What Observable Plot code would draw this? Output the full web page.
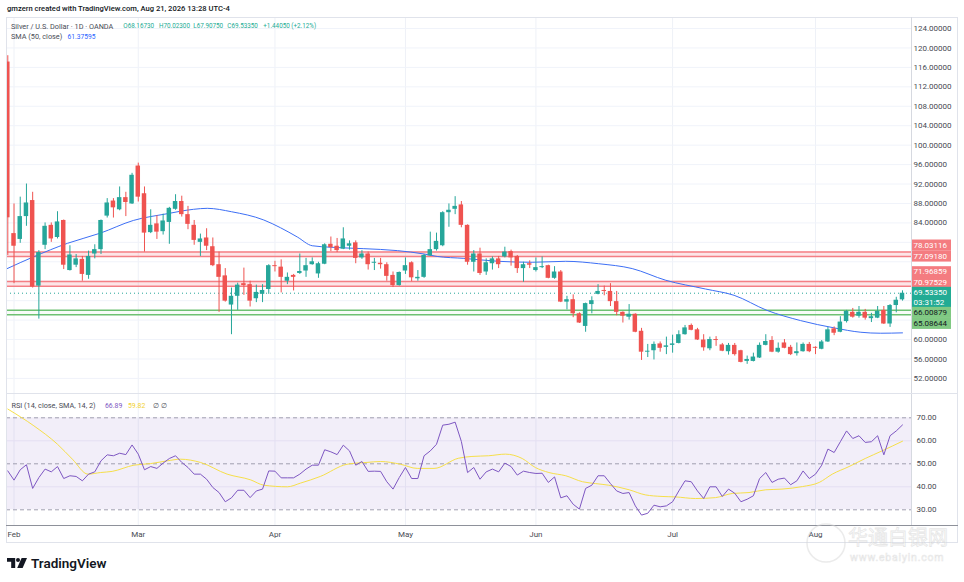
<!DOCTYPE html>
<html><head><meta charset="utf-8">
<script src="https://cdn.jsdelivr.net/npm/d3@7"></script>
<script src="https://cdn.jsdelivr.net/npm/@observablehq/plot@0.6"></script>
<style>
body{margin:0;background:#fff;}
#root{position:relative;width:964px;height:582px;overflow:hidden;background:#fff;font-family:Roboto,"Noto Sans",sans-serif;}
#root > svg{position:absolute;left:0;}
</style></head><body><div id="root"></div>
<script>
// ---------- data ----------
const opens = [117.1,81.8,80.6,85.3,88.6,71.0,79.4,83.5,81.0,84.5,
74.2,75.3,76.5,73.2,77.6,78.5,85.4,88.5,86.7,89.2,
87.9,95.7,90.0,82.0,83.8,82.2,84.1,86.8,88.4,85.7,
83.5,80.0,80.9,79.1,75.4,73.1,67.1,68.9,71.5,71.3,
68.4,69.3,70.3,75.2,74.9,72.0,73.2,73.6,74.1,75.4,
73.5,75.5,79.6,79.2,78.6,79.2,79.9,76.8,77.6,75.7,
75.7,75.4,73.2,71.1,74.1,75.8,72.5,72.8,77.2,78.5,
79.3,86.1,86.8,87.7,83.5,75.9,77.6,73.9,75.6,76.6,
77.0,78.1,77.1,74.6,75.6,74.2,74.8,75.2,72.6,73.9,
67.7,68.2,65.3,62.7,67.2,69.3,70.1,69.9,67.8,65.6,
64.6,65.2,61.7,57.4,57.7,59.1,58.4,58.8,59.2,61.0,
62.9,62.0,59.9,58.1,60.0,58.9,57.5,58.8,57.7,55.5,
55.5,56.2,58.8,59.8,57.4,59.3,58.4,57.1,57.5,59.0,
58.4,58.0,59.5,62.2,61.5,63.7,65.6,64.8,65.6,64.3,
64.4,66.0,63.2,67.0,68.1673];
const highs = [118.4,87.9,89.3,92.0,90.3,78.3,84.0,84.0,86.3,84.6,
79.3,77.5,77.1,78.2,79.5,84.6,89.0,89.0,91.4,90.3,
94.2,96.3,91.4,86.7,85.5,85.8,87.2,89.8,89.5,87.4,
84.5,81.7,82.8,80.9,78.0,74.6,70.6,71.6,74.7,72.0,
71.2,71.3,75.4,76.1,76.4,73.7,73.4,77.6,76.7,76.8,
75.9,79.7,81.1,80.8,83.0,80.3,80.3,78.3,78.0,76.7,
76.7,75.8,73.9,73.9,76.8,76.0,74.2,77.5,82.1,81.9,
86.3,87.9,89.4,88.4,83.6,78.3,78.8,76.6,77.0,77.1,
79.0,78.4,77.3,75.9,76.2,76.8,77.0,75.3,75.0,74.2,
68.9,69.2,65.5,67.5,68.8,71.3,71.0,71.5,69.9,65.7,
67.2,65.3,62.3,59.0,59.5,59.5,60.5,60.9,61.8,62.9,
63.2,62.3,61.0,60.5,60.6,59.2,59.2,59.2,57.8,56.6,
57.2,59.3,61.0,60.6,59.3,60.0,58.8,59.3,59.3,59.4,
58.5,59.8,62.5,62.6,64.7,66.0,66.4,66.8,66.2,65.4,
66.8,66.8,67.2,68.7,70.023];
const lows = [77.3,71.5,79.8,83.3,70.6,64.2,78.5,80.0,80.7,74.4,
74.1,74.8,72.0,72.4,76.6,77.5,85.0,85.0,86.5,85.3,
87.8,88.3,78.0,81.8,80.6,81.5,79.6,86.6,85.2,82.6,
79.4,77.1,78.3,75.0,65.6,67.7,61.0,66.0,69.1,66.7,
67.6,67.6,69.3,73.9,69.6,71.3,70.0,73.4,72.8,75.3,
72.6,75.4,78.1,77.9,78.5,78.4,75.6,76.5,74.3,74.2,
74.5,72.0,70.7,71.0,73.4,71.9,72.0,72.6,77.1,78.2,
79.1,83.1,85.7,83.0,75.3,73.9,73.2,73.2,74.3,74.6,
76.8,75.1,73.6,71.8,74.6,73.9,74.6,72.5,72.4,67.6,
66.1,64.5,63.3,61.5,65.3,69.2,69.0,66.8,64.9,63.4,
64.0,61.4,55.7,56.3,55.8,57.4,56.9,57.2,59.1,60.9,
61.8,59.8,57.6,57.7,58.6,57.5,56.8,56.6,55.2,54.9,
55.4,56.1,58.7,57.3,57.2,58.1,56.7,56.6,57.4,57.3,
56.9,57.9,59.4,60.8,61.4,63.4,64.4,64.4,64.0,63.5,
64.3,63.1,62.5,65.5,67.9075];
const closes = [85.05,79.2,85.3,88.1,70.8,77.9,83.3,80.7,84.2,75.3,
77.4,76.6,73.4,77.1,78.5,84.5,88.1,87.1,89.2,88.2,
93.8,89.3,81.9,83.5,82.1,84.4,87.0,88.4,85.7,83.7,
80.4,80.7,79.2,75.2,72.8,67.9,68.9,71.2,71.1,67.9,
69.7,70.1,75.2,75.0,72.8,72.8,72.8,74.0,75.2,76.0,
75.6,79.5,78.9,78.3,80.7,79.7,76.7,77.6,75.4,75.9,
75.4,73.0,71.1,73.8,75.2,72.7,72.8,77.3,78.5,80.2,
86.1,86.6,87.4,83.5,75.9,77.6,73.6,75.8,76.6,75.4,
78.0,76.8,74.6,75.4,75.3,74.8,75.0,72.6,73.9,67.7,
68.2,65.3,63.4,67.4,68.0,69.9,69.9,67.8,65.6,64.8,
65.2,61.5,57.4,57.6,59.0,58.2,58.7,59.1,61.0,62.4,
61.9,59.9,58.3,60.0,59.8,57.6,58.8,56.9,55.3,55.9,
56.4,58.8,59.6,57.4,58.2,58.2,56.9,57.5,59.0,57.5,
58.2,59.5,62.0,61.3,63.6,65.8,64.6,65.6,64.4,64.7,
65.8,63.2,67.0,68.09,69.5335];
const rsi = [46.9,42.9,47.4,49.6,39.3,44.0,47.7,46.5,48.8,43.6,
44.8,44.5,42.6,45.5,46.5,51.3,53.9,53.5,54.6,54.0,
58.2,54.2,47.4,48.8,48.0,50.3,52.3,53.5,50.6,48.4,
45.5,45.5,43.3,39.7,37.5,33.5,35.2,38.5,38.5,35.3,
38.2,39.0,46.9,46.8,43.9,43.9,43.9,45.5,47.7,49.4,
49.4,56.1,55.2,54.0,58.1,55.6,49.4,51.0,46.7,46.8,
46.7,42.2,39.0,44.0,48.4,43.6,43.6,53.5,55.6,58.5,
66.8,67.2,68.1,59.7,46.2,48.4,43.3,46.5,47.7,46.5,
50.3,48.8,45.1,46.8,46.2,45.8,45.9,41.9,44.3,35.2,
36.1,32.4,30.3,39.3,40.7,44.8,44.8,41.4,38.2,37.1,
37.5,31.7,27.7,28.5,32.0,31.3,31.7,33.5,38.2,42.6,
42.2,38.2,34.9,40.0,40.0,35.8,39.0,37.2,33.5,34.6,
36.1,43.6,46.2,41.9,43.3,43.8,40.9,42.6,46.9,43.6,
45.5,49.4,56.4,54.9,59.6,64.3,61.0,62.2,59.3,59.6,
62.2,53.9,62.2,64.3,66.89];
// SMA(50) read as (bar position, value)
const smaBar = [0.9,5.1,10.6,15.9,21.2,26.7,30.9,33.1,37.0,42.2,44.9,47.6,50.0,52.9,58.3,63.7,68.0,70.1,74.4,80.0,85.4,90.8,96.1,101.5,106.9,113.3,117.9,123.2,128.6,134.0,138.3,141.5,145.0];
const smaVal = [74.6,77.0,79.8,81.9,84.5,85.9,86.8,87.0,86.3,84.6,83.0,81.1,79.3,79.0,78.7,78.3,77.6,77.1,76.7,76.1,75.9,76.1,75.6,74.6,72.2,70.4,69.1,66.0,63.9,62.4,61.5,61.3,61.37595];
// RSI-based SMA read as (bar position, value)
const rsiMaBar = [1,5.2,9.0,11.4,13.9,15.9,17.8,21.3,24.0,26.7,28.8,32.0,36.3,40.1,42.2,46.0,48.1,51.3,55.6,58.8,61.0,64.2,66.9,69.6,73.5,75.7,78.4,81.1,83.8,85.9,88.1,90.8,93.5,95.6,97.7,101.0,103.6,106.3,108.5,111.7,114.9,117.6,120.3,123.0,125.6,128.9,131.6,133.7,136.4,139.0,141.7,145.0];
const rsiMaVal = [73.8,66.5,58.5,52.0,45.5,46.2,46.7,49.4,50.1,51.3,52.0,50.6,45.5,43.0,40.7,40.0,41.6,44.5,49.8,50.6,51.0,49.8,48.0,48.0,52.4,53.2,53.5,54.2,52.3,48.4,46.2,44.8,42.2,41.4,40.7,38.7,36.5,35.8,35.6,34.9,35.3,37.1,37.5,38.7,39.0,40.1,41.9,45.5,48.8,52.3,55.6,59.82];
const monthBar = [2,22,44,65,86,108,131];
const monthLabels = ["Feb","Mar","Apr","May","Jun","Jul","Aug"];
const priceTicks = [52,56,60,64,68,72,76,80,84,88,92,96,100,104,108,112,116,120,124];
const rsiTicks = [30,40,50,60,70];
const rsiDashed = [30,50,70];
const rsiGrid = [40,60];
const resistUpper = [78.03116,77.09180];
const resistLower = [71.96859,70.97529];
const supportZone = [66.00879,65.08644];
const lastPrice = 69.5335;
const countdown = "03:31:52";
const ohlcText = ["O68.16730","H70.02300","L67.90750","C69.53350","+1.44050 (+2.12%)"];

// ---------- build ----------
const FONT = 'Roboto, "Noto Sans", sans-serif';
const GREEN = "#26a69a", RED = "#ef5350";
const xDom = [0.79, 146.45];
const yDom = [48.90, 126.263];
const MAIN_H = 376;
const candles = opens.map((o,k)=>({i:k+1,o,h:highs[k],l:lows[k],c:closes[k],col:closes[k]>=o?GREEN:RED}));
const smaPts = smaBar.map((b,k)=>({i:b,v:smaVal[k]}));
const rsiPts = rsi.map((v,k)=>({i:k+1,v}));
const rsiMaPts = rsiMaBar.map((b,k)=>({i:b,v:rsiMaVal[k]}));
const root = document.getElementById("root");
const style = {fontFamily:FONT,fontSize:"8px",color:"#474a52",background:"transparent",overflow:"visible"};

// price-scale labels for the drawn levels (stacked as on the price scale)
const labelRows = [
  {v:resistUpper[0],t:resistUpper[0].toFixed(5),bg:"#f47c80",fg:"#fff",dy:-6.4},
  {v:resistUpper[1],t:resistUpper[1].toFixed(5),bg:"#f47c80",fg:"#fff",dy:0},
  {v:resistLower[0],t:resistLower[0].toFixed(5),bg:"#f47c80",fg:"#fff",dy:-9.2},
  {v:resistLower[1],t:resistLower[1].toFixed(5),bg:"#f47c80",fg:"#fff",dy:-3.4},
  {v:lastPrice,t:lastPrice.toFixed(5),bg:"#22ab94",fg:"#fff",dy:-0.4},
  {v:lastPrice,t:countdown,bg:"#22ab94",fg:"#fff",dy:9.0},
  {v:supportZone[0],t:supportZone[0].toFixed(5),bg:"#80c983",fg:"#131722",dy:2.5},
  {v:supportZone[1],t:supportZone[1].toFixed(5),bg:"#80c983",fg:"#131722",dy:9.0}
];
const yProbe = Plot.scale({y:{domain:yDom,range:[MAIN_H,0]}});
const boxSpans = labelRows.map(r=>{const c=yProbe.apply(r.v)+r.dy;return [c-5.5,c+5.6];});
const shownTicks = priceTicks.filter(t=>{const y=yProbe.apply(t);return !boxSpans.some(([a,b])=>y>a-4&&y<b+4);});

const main = Plot.plot({
  width:964,height:MAIN_H,marginLeft:6,marginRight:53,marginTop:0,marginBottom:0,
  x:{domain:xDom,axis:null,label:null},
  y:{domain:yDom,axis:null,label:null},
  color:{type:"identity"},
  style,
  marks:[
    Plot.ruleX(monthBar,{stroke:"#eef1f7"}),
    Plot.ruleY(priceTicks,{stroke:"#f0f3fa"}),
    Plot.rect([resistUpper,resistLower],{x1:()=>xDom[0],x2:()=>xDom[1],y1:d=>d[0],y2:d=>d[1],fill:"#f23645",fillOpacity:0.13}),
    Plot.rect([supportZone],{x1:()=>xDom[0],x2:()=>xDom[1],y1:d=>d[0],y2:d=>d[1],fill:"#4caf50",fillOpacity:0.04}),
    Plot.ruleY([...resistUpper,...resistLower],{stroke:"#f47f85",strokeWidth:1.5}),
    Plot.ruleY(supportZone,{stroke:"#6fc173",strokeWidth:1.5}),
    Plot.ruleY([lastPrice],{stroke:GREEN,strokeDasharray:"1,3",strokeWidth:1}),
    Plot.line(smaPts,{x:"i",y:"v",stroke:"#3d6ff5",strokeWidth:1,curve:"monotone-x",clip:true}),
    Plot.ruleX(candles,{x:"i",y1:"l",y2:"h",stroke:"col",strokeWidth:1,clip:true}),
    Plot.rect(candles,{x1:d=>d.i-0.36,x2:d=>d.i+0.36,y1:"o",y2:"c",fill:"col",clip:true}),
    Plot.axisY(shownTicks,{anchor:"right",tickSize:0,tickPadding:2,tickFormat:d=>d.toFixed(5)})
  ]
});
main.style.top = "17px";
root.appendChild(main);

const ys = main.scale("y");
const lg = d3.select(main).append("g").attr("text-anchor","start");
labelRows.forEach(r=>{
  const cy = ys.apply(r.v)+r.dy;
  lg.append("rect").attr("x",911.5).attr("y",cy-5.5).attr("width",39.5).attr("height",11.1).attr("fill",r.bg);
  lg.append("text").attr("x",913.5).attr("y",cy).attr("dy","0.35em").attr("fill",r.fg)
    .attr("font-size",8).attr("font-family",FONT).text(r.t);
});

const rsiChart = Plot.plot({
  width:964,height:152,marginLeft:6,marginRight:53,marginTop:0,marginBottom:20,
  x:{domain:xDom,axis:null,label:null},
  y:{domain:[23.174,80.565],axis:null,label:null},
  style,
  marks:[
    Plot.ruleX(monthBar,{stroke:"#eef1f7"}),
    Plot.rect([[30,70]],{x1:()=>xDom[0],x2:()=>xDom[1],y1:d=>d[0],y2:d=>d[1],fill:"#7e57c2",fillOpacity:0.1}),
    Plot.ruleY(rsiGrid,{stroke:"#e4def3"}),
    Plot.ruleY(rsiDashed,{stroke:"#a09eb0",strokeDasharray:"4,3"}),
    Plot.line(rsiMaPts,{x:"i",y:"v",stroke:"#f6df4a",strokeWidth:1,curve:"monotone-x",clip:true}),
    Plot.line(rsiPts,{x:"i",y:"v",stroke:"#7e57c2",strokeWidth:1,clip:true}),
    Plot.axisY(rsiTicks,{anchor:"right",tickSize:0,tickPadding:5,tickFormat:d=>d.toFixed(2)}),
    Plot.axisX(monthBar,{anchor:"bottom",tickSize:0,tickPadding:6,tickFormat:d=>monthLabels[monthBar.indexOf(d)]})
  ]
});
rsiChart.style.top = "393px";
root.appendChild(rsiChart);

// ---------- overlay: frame, legends, branding ----------
const ov = d3.select(root).append("svg").attr("width",964).attr("height",582)
  .style("position","absolute").style("top","0px").style("left","0px").style("pointer-events","none")
  .attr("font-family",FONT).attr("text-anchor","start");
const line=(x1,y1,x2,y2,c)=>ov.append("line").attr("x1",x1).attr("y1",y1).attr("x2",x2).attr("y2",y2).attr("stroke",c).attr("stroke-width",1);
line(6,17.5,958,17.5,"#e0e3eb");
line(6.5,17,6.5,543,"#e0e3eb");
line(957.5,17,957.5,543,"#e0e3eb");
line(6,542.5,958,542.5,"#e0e3eb");
line(911.5,17,911.5,525,"#d6d9e0");
line(6,393.5,958,393.5,"#e0e3eb");
line(6,525.5,958,525.5,"#8e919a");

const txt=(x,y,s,fill,size,weight)=>ov.append("text").attr("x",x).attr("y",y).attr("dy","0.35em")
  .attr("fill",fill).attr("font-size",size).attr("font-weight",weight||400).text(s);
txt(7,8.5,"gmzern created with TradingView.com, Aug 21, 2026 13:28 UTC-4","#131722",7.6,500);
txt(11,26,"Silver / U.S. Dollar · 1D · OANDA","#4a4d56",7.3);
const teal="#22ab94";
const ohlcX=[123.3,159,193.3,227.3,263.3];
ohlcText.forEach((s,k)=>txt(ohlcX[k],26,s,teal,6.3));
txt(11,36.5,"SMA (50, close)","#4a4d56",7.3);
txt(67.5,36.5,smaVal[smaVal.length-1].toFixed(5),"#2962ff",6.7);
txt(11.5,405.5,"RSI (14, close, SMA, 14, 2)","#4a4d56",7.3);
txt(105,405.5,rsi[rsi.length-1].toFixed(2),"#7e57c2",6.9);
txt(128,405.5,rsiMaVal[rsiMaVal.length-1].toFixed(2),"#f2d22e",6.9);
txt(152.5,405.5,"∅","#4a4d56",7.3);
txt(161,405.5,"∅","#4a4d56",7.3);

// TradingView logo
const logo = ov.append("g").attr("transform","translate(7,558)").attr("fill","#131722");
logo.append("path").attr("d","M0,0 H8.2 V10 H4.2 V3.8 H0 Z");
logo.append("circle").attr("cx",11).attr("cy",2).attr("r",2);
logo.append("path").attr("d","M14.6,0 H20 L15.6,10 H10.2 Z");
txt(31,563.5,"TradingView","#131722",13.5,600);

// faint source watermark
const wm = ov.append("g").attr("opacity",0.5);
wm.append("circle").attr("cx",826).attr("cy",543).attr("r",19).attr("fill","none").attr("stroke","#d8d8d8").attr("stroke-width",1.5);
wm.append("text").attr("x",848).attr("y",538).attr("dy","0.35em").attr("font-family",'"Noto Sans CJK SC"').attr("font-size",20)
  .attr("fill","#ffffff").attr("stroke","#cfcfcf").attr("stroke-width",0.8).text("华通白银网");
wm.append("text").attr("x",850).attr("y",557).attr("dy","0.35em").attr("font-size",10.5)
  .attr("fill","#ffffff").attr("stroke","#cfcfcf").attr("stroke-width",0.6).attr("letter-spacing",0.8).text("www.ebaiyin.com");
</script>
</body></html>
